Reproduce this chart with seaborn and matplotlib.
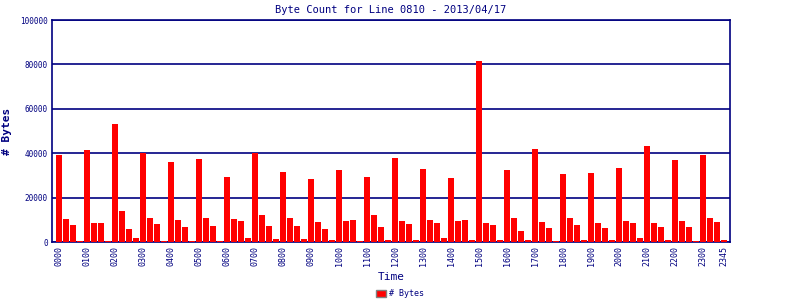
import matplotlib
matplotlib.use("Agg")
import matplotlib.pyplot as plt
import seaborn as sns
import pandas as pd
from matplotlib.patches import Patch

times = [f"{h:02d}{m:02d}" for h in range(24) for m in (0, 15, 30, 45)]
byte_counts = [
    39200, 10500, 7800, 600,
    41500, 8700, 8700, 600,
    53200, 14100, 6000, 1950,
    40000, 10900, 8200, 600,
    36100, 10000, 6900, 600,
    37400, 10900, 7300, 600,
    29400, 10500, 9600, 1950,
    40000, 12300, 7300, 1500,
    31600, 10900, 7300, 1500,
    28500, 9100, 6000, 1050,
    32500, 9600, 10000, 600,
    29400, 12300, 6900, 1050,
    37900, 9600, 8200, 1050,
    33000, 10000, 8700, 1950,
    28900, 9600, 10000, 1050,
    81500, 8700, 7800, 1050,
    32500, 10900, 5100, 1050,
    41900, 9100, 6400, 600,
    30700, 10900, 7800, 1050,
    31200, 8700, 6400, 1050,
    33400, 9600, 8700, 1950,
    43300, 8700, 6900, 1050,
    37000, 9600, 6900, 600,
    39200, 10900, 9100, 1050,
]
y_ticks = [0, 20000, 40000, 60000, 80000, 100000]
tick_labels = [t for t in times if t.endswith("00")] + ["2345"]

df = pd.DataFrame({"Time": times, "Bytes": byte_counts})

navy = "#000080"
mono = "DejaVu Sans Mono"

sns.set_style("white")
plt.rcParams["font.family"] = [mono]

fig = plt.figure(figsize=(8, 3), dpi=100)
ax = fig.add_axes([0.065, 0.193, 0.8475, 0.74])

sns.barplot(data=df, x="Time", y="Bytes", color="#ff0000", saturation=1,
            width=0.86, ax=ax, zorder=3, edgecolor="none", linewidth=0)

ax.set_ylim(0, 100000)
ax.set_xlim(-1.0, 95.85)
ax.set_yticks(y_ticks)
ax.set_yticklabels([str(v) for v in y_ticks], fontsize=5.5, color=navy)
ax.yaxis.grid(True, color=navy, linewidth=1.2, zorder=1)
ax.xaxis.grid(False)

pos = [times.index(t) for t in tick_labels]
ax.set_xticks(pos)
ax.set_xticklabels(tick_labels, rotation=90, fontsize=6, color=navy)
ax.tick_params(axis="both", length=0, pad=3)

for s in ax.spines.values():
    s.set_color(navy)
    s.set_linewidth(1.2)
    s.set_visible(True)

ax.set_xlabel("Time", fontsize=8, color=navy, labelpad=4)
ax.set_ylabel("# Bytes", fontsize=8, color=navy, labelpad=6, fontweight="bold")
ax.set_title("Byte Count for Line 0810 - 2013/04/17", fontsize=7.5, color=navy, pad=5)

fig.legend(handles=[Patch(facecolor="#ff0000", edgecolor="#808080", label="# Bytes")],
           loc="lower center", bbox_to_anchor=(0.5, -0.02), frameon=False,
           fontsize=6, handlelength=1.2, handleheight=0.9, handletextpad=0.4,
           labelcolor=navy)

fig.savefig("out.png", dpi=100)
